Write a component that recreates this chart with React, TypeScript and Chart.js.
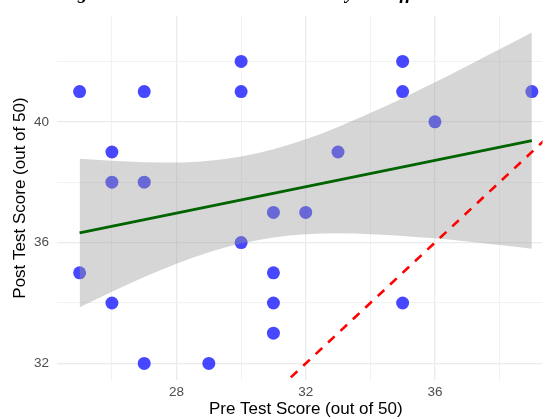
import React, { useEffect, useRef } from 'react';
import { Chart, registerables } from 'chart.js';

Chart.register(...registerables);

// Observed data (Pre test score, Post test score)
const preScores = [25, 25, 26, 26, 26, 27, 27, 27, 29, 30, 30, 30, 31, 31, 31, 31, 32, 33, 35, 35, 35, 36, 39];
const postScores = [41, 35, 39, 38, 34, 41, 38, 32, 32, 42, 41, 36, 37, 35, 34, 33, 37, 39, 42, 41, 34, 40, 41];

// Fitted regression line
const fitX = [25, 39];
const fitY = [36.32, 39.38];

// Confidence band
const bandX = [25, 26, 27, 28, 29, 30, 31, 32, 33, 34, 35, 36, 37, 38, 39];
const bandLower = [33.86, 34.37, 34.86, 35.3, 35.68, 35.97, 36.17, 36.28, 36.31, 36.28, 36.22, 36.14, 36.04, 35.92, 35.8];
const bandUpper = [38.78, 38.71, 38.66, 38.65, 38.71, 38.85, 39.09, 39.42, 39.83, 40.29, 40.78, 41.31, 41.85, 42.4, 42.96];

// Identity (no change) reference line y = x
const refX = [30, 41];
const refY = [30, 41];

// Axis ticks
const xGridTicks = [26, 28, 30, 32, 34, 36, 38];
const xLabelTicks = [28, 32, 36];
const yGridTicks = [32, 34, 36, 38, 40, 42];
const yLabelTicks = [32, 36, 40];

const TITLE = 'Regression Line Demonstrates Nearly No Effect';
const X_TITLE = 'Pre Test Score (out of 50)';
const Y_TITLE = 'Post Test Score (out of 50)';

const SANS = '"Liberation Sans", Arial, Helvetica, sans-serif';

const textPlugin = {
  id: 'ggTexts',
  afterDraw(chart: any) {
    const { ctx, chartArea, scales } = chart;
    ctx.save();
    // plot title (mostly cropped above the image)
    ctx.fillStyle = '#000';
    ctx.font = 'italic bold 19px "Liberation Serif", "Times New Roman", serif';
    ctx.textAlign = 'left';
    ctx.textBaseline = 'alphabetic';
    ctx.fillText(TITLE, chartArea.left, -1);
    // x axis title
    ctx.font = `17px ${SANS}`;
    ctx.textAlign = 'center';
    ctx.textBaseline = 'middle';
    ctx.fillText(X_TITLE, scales.x.getPixelForValue(32), 409);
    // y axis title
    ctx.translate(20, (chartArea.top + chartArea.bottom) / 2);
    ctx.rotate(-Math.PI / 2);
    ctx.fillText(Y_TITLE, 0, 0);
    ctx.restore();
  },
};

export default function App() {
  const ref = useRef<HTMLCanvasElement>(null);

  useEffect(() => {
    if (!ref.current) return;
    const points = preScores.map((x, i) => ({ x, y: postScores[i] }));
    const chart = new Chart(ref.current, {
      type: 'scatter',
      data: {
        datasets: [
          {
            label: 'identity',
            type: 'line',
            data: refX.map((x, i) => ({ x, y: refY[i] })),
            showLine: true,
            borderColor: '#FF0000',
            borderWidth: 2.6,
            borderDash: [9, 8],
            pointRadius: 0,
            fill: false,
            order: 1,
            clip: 0,
          } as any,
          {
            label: 'fit',
            type: 'line',
            data: fitX.map((x, i) => ({ x, y: fitY[i] })),
            showLine: true,
            borderColor: '#006400',
            borderWidth: 2.8,
            pointRadius: 0,
            fill: false,
            order: 2,
          } as any,
          {
            label: 'lower',
            type: 'line',
            data: bandX.map((x, i) => ({ x, y: bandLower[i] })),
            showLine: true,
            borderColor: 'rgba(0,0,0,0)',
            borderWidth: 0,
            pointRadius: 0,
            fill: false,
            cubicInterpolationMode: 'monotone',
            order: 3,
          } as any,
          {
            label: 'upper',
            type: 'line',
            data: bandX.map((x, i) => ({ x, y: bandUpper[i] })),
            showLine: true,
            borderColor: 'rgba(0,0,0,0)',
            borderWidth: 0,
            pointRadius: 0,
            fill: '-1',
            backgroundColor: 'rgba(153,153,153,0.4)',
            cubicInterpolationMode: 'monotone',
            order: 3,
          } as any,
          {
            label: 'scores',
            data: points,
            backgroundColor: 'rgba(0,0,255,0.72)',
            borderWidth: 0,
            pointRadius: 6.5,
            order: 5,
          } as any,
        ],
      },
      options: {
        animation: false,
        responsive: false,
        maintainAspectRatio: false,
        layout: { padding: { left: 0, right: 0, top: 14, bottom: 0 } },
        plugins: {
          legend: { display: false },
          tooltip: { enabled: false },
          title: { display: false },
        },
        scales: {
          x: {
            type: 'linear',
            min: 24.3,
            max: 39.33,
            afterBuildTicks: (s: any) => {
              s.ticks = xGridTicks.map((v) => ({ value: v }));
            },
            afterFit: (s: any) => {
              s.height = 39;
            },
            border: { display: false },
            grid: {
              drawTicks: false,
              color: (c: any) => (xLabelTicks.includes(c.tick?.value) ? '#EBEBEB' : '#F2F2F2'),
              lineWidth: (c: any) => (xLabelTicks.includes(c.tick?.value) ? 1.3 : 1),
            },
            ticks: {
              autoSkip: false,
              maxRotation: 0,
              padding: 4,
              color: '#4D4D4D',
              font: { family: SANS, size: 13.5 },
              callback: (v: any) => (xLabelTicks.includes(v) ? String(v) : ''),
            },
          },
          y: {
            type: 'linear',
            min: 31.45,
            max: 43.5,
            afterBuildTicks: (s: any) => {
              s.ticks = yGridTicks.map((v) => ({ value: v }));
            },
            afterFit: (s: any) => {
              s.width = 57;
            },
            border: { display: false },
            grid: {
              drawTicks: false,
              color: (c: any) => (yLabelTicks.includes(c.tick?.value) ? '#EBEBEB' : '#F2F2F2'),
              lineWidth: (c: any) => (yLabelTicks.includes(c.tick?.value) ? 1.3 : 1),
            },
            ticks: {
              autoSkip: false,
              padding: 8,
              color: '#4D4D4D',
              font: { family: SANS, size: 13.5 },
              callback: (v: any) => (yLabelTicks.includes(v) ? String(v) : ''),
            },
          },
        },
      },
      plugins: [textPlugin],
    });
    return () => chart.destroy();
  }, []);

  return (
    <div
      style={{
        position: 'fixed',
        left: 0,
        top: 0,
        width: 549,
        height: 419,
        overflow: 'hidden',
        background: '#ffffff',
      }}
    >
      <canvas ref={ref} width={549} height={419} style={{ display: 'block', width: 549, height: 419 }} />
    </div>
  );
}
